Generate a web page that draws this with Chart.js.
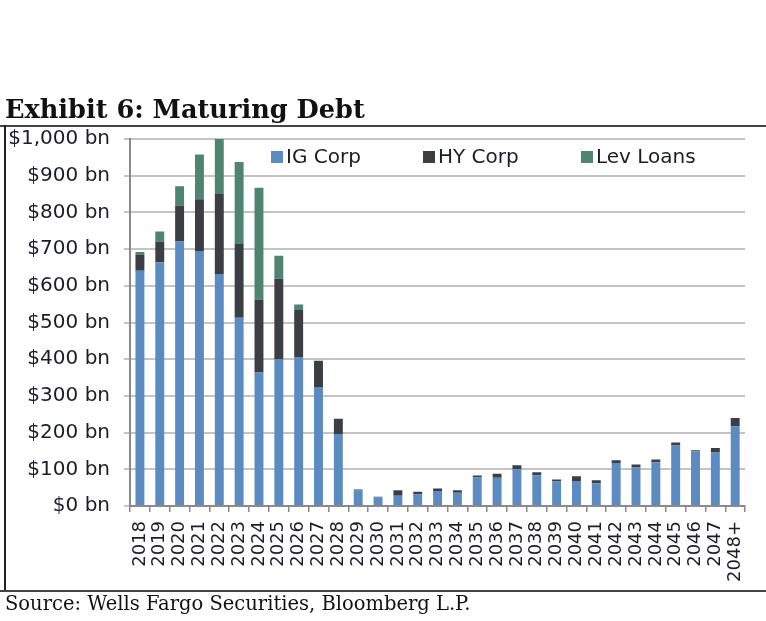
<!DOCTYPE html>
<html>
<head>
<meta charset="utf-8">
<script src="https://cdn.jsdelivr.net/npm/chart.js@4.4.1/dist/chart.umd.min.js"></script>
<style>
    body { margin: 0; background: #fff; width: 766px; height: 621px; overflow: hidden; position: relative; }
    #wrap { position: absolute; left: 0; top: 0; width: 766px; height: 621px; }
    .title { position: absolute; left: 5px; top: 95px; font: bold 25.6px "DejaVu Serif", serif; color: #111; white-space: nowrap; line-height: 28px; }
    .source { position: absolute; left: 5px; top: 593px; font: 19.5px "DejaVu Serif", serif; color: #111; white-space: nowrap; line-height: 22px; }
    .rule { position: absolute; background: #444; }
    .leg { position: absolute; top: 145px; font: 20px "DejaVu Sans", sans-serif; color: #1c1c2c; white-space: nowrap; line-height: 22px; }
    .leg span { display: inline-block; width: 12px; height: 12px; margin-right: 3px; vertical-align: 0px; }
</style>
</head>
<body>
<div id="wrap"><canvas id="debtChart" width="766" height="621"></canvas></div>
<div class="title">Exhibit 6: Maturing Debt</div>
<div class="rule" style="left:0; top:125px; width:766px; height:2px;"></div>
<div class="rule" style="left:4px; top:125px; width:2px; height:467px; background:#222;"></div>
<div class="rule" style="left:0; top:590px; width:766px; height:2px;"></div>
<div class="leg" style="left:271px;"><span style="background:#5b8bc0"></span>IG Corp</div>
<div class="leg" style="left:423px;"><span style="background:#3b3e43"></span>HY Corp</div>
<div class="leg" style="left:581px;"><span style="background:#4f8570"></span>Lev Loans</div>
<div class="source">Source: Wells Fargo Securities, Bloomberg L.P.</div>

<script>
// maturing debt by year, $bn
const years = ['2018', '2019', '2020', '2021', '2022', '2023', '2024', '2025', '2026', '2027',
    '2028', '2029', '2030', '2031', '2032', '2033', '2034', '2035', '2036', '2037',
    '2038', '2039', '2040', '2041', '2042', '2043', '2044', '2045', '2046', '2047', '2048+'];
const igCorp = [641, 664, 721, 695, 632, 513, 364, 399, 406, 324,
    196, 42, 23, 28, 32, 41, 36, 78, 77, 100,
    84, 67, 68, 62, 117, 105, 119, 165, 149, 146, 217];
const hyCorp = [44, 57, 98, 141, 218, 201, 198, 220, 128, 72,
    42, 3, 2, 15, 7, 7, 7, 5, 11, 11,
    8, 5, 13, 8, 8, 8, 8, 8, 3, 12, 23];
const levLoans = [7, 27, 52, 122, 150, 223, 305, 63, 15, 0,
    0, 0, 0, 0, 0, 0, 0, 0, 0, 0,
    0, 0, 0, 0, 0, 0, 0, 0, 0, 0, 0];
const yTicks = [0, 100, 200, 300, 400, 500, 600, 700, 800, 900, 1000];

const inkColor = '#1c1c2c';

new Chart(document.getElementById('debtChart'), {
    type: 'bar',
    data: {
        labels: years,
        datasets: [
            { label: 'IG Corp', data: igCorp, backgroundColor: '#5b8bc0' },
            { label: 'HY Corp', data: hyCorp, backgroundColor: '#3b3e43' },
            { label: 'Lev Loans', data: levLoans, backgroundColor: '#4f8570' }
        ]
    },
    options: {
        responsive: false,
        animation: false,
        layout: { padding: { top: 139, right: 12, left: 0, bottom: 0 } },
        datasets: { bar: { categoryPercentage: 1, barPercentage: 0.45 } },
        plugins: { legend: { display: false }, tooltip: { enabled: false } },
        scales: {
            x: {
                stacked: true,
                afterFit: s => { s.height = 115; },
                grid: { offset: true, drawOnChartArea: false, drawTicks: true, tickLength: 6, color: '#8a8a8a', lineWidth: 1.5 },
                border: { color: '#8a8a8a', width: 2 },
                ticks: {
                    minRotation: 90, maxRotation: 90, autoSkip: false, padding: 9,
                    color: inkColor, font: { family: 'DejaVu Sans', size: 18 }
                }
            },
            y: {
                stacked: true,
                min: 0, max: 1000,
                afterFit: s => { s.width = 130; },
                afterBuildTicks: s => { s.ticks = yTicks.map(v => ({ value: v })); },
                grid: { color: '#c4c4c4', lineWidth: 2, tickLength: 6 },
                border: { color: '#8a8a8a', width: 2 },
                ticks: {
                    padding: 14, color: inkColor, font: { family: 'DejaVu Sans', size: 20 },
                    callback: v => '$' + v.toLocaleString('en-US') + ' bn'
                }
            }
        }
    }
});
</script>
</body>
</html>
